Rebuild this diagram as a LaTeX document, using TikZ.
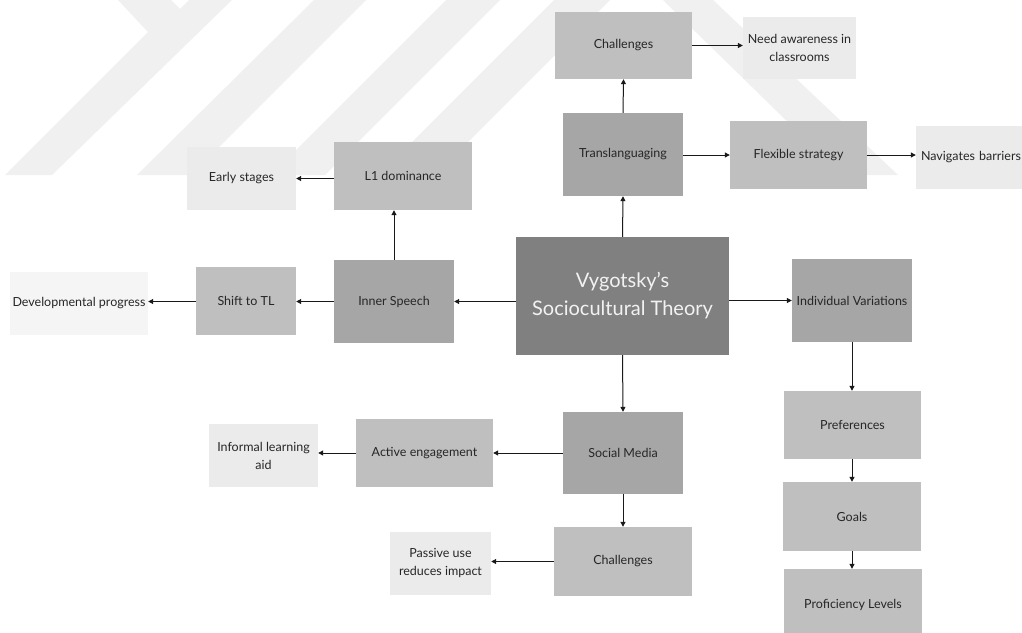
\documentclass[tikz,border=0pt]{standalone}
\usepackage{fontspec}
\setmainfont{Lato}
\usetikzlibrary{arrows.meta}

\definecolor{hubgray}{HTML}{808080}
\definecolor{midgray}{HTML}{A6A6A6}
\definecolor{lightgray}{HTML}{BFBFBF}
\definecolor{palegray}{HTML}{EBEBEB}
\definecolor{whitegray}{HTML}{F5F5F5}
\definecolor{markgray}{HTML}{F0F0F0}
\definecolor{inkgray}{HTML}{262626}

\tikzset{
  box/.style={rectangle, inner sep=0pt, align=center, text=inkgray,
    font=\fontsize{12.5}{18}\selectfont},
  hub/.style={box, fill=hubgray, text={white!95!black},
    font=\fontsize{20}{28}\selectfont},
  tier1/.style={box, fill=midgray},
  tier2/.style={box, fill=lightgray},
  tier3/.style={box, fill=palegray},
  tier4/.style={box, fill=whitegray},
  link/.style={-{Triangle[length=5pt,width=5pt]}, line width=1pt, black!90},
  sz/.style n args={2}{minimum width=#1pt, minimum height=#2pt}
}

\begin{document}
\begin{tikzpicture}[x=1pt, y=-1pt]
  \useasboundingbox (0,0) rectangle (1022,632);
  \fill[white] (0,0) rectangle (1022,632);

  % light background stripes
  \begin{scope}[fill=markgray]
    \fill (118,0) -- (171,0) -- (180,9) -- (189,0) -- (232,0) -- (52,175)
          -- (5,175) -- (148,32) -- cycle;
    \fill (314,0) -- (366,0) -- (191,175) -- (137,175) -- cycle;
    \fill (446,0) -- (500,0) -- (325,175) -- (271,175) -- cycle;
    \fill (554,0) -- (610,0) -- (435,175) -- (379,175) -- cycle;
    \fill (663,0) -- (713,0) -- (898,175) -- (842,175) -- cycle;
  \end{scope}

  % central concept
  \node[hub, sz={213}{118}] (hub) at (622.5,296) {Vygotsky's\\Sociocultural Theory};

  % translanguaging branch
  \node[tier1, sz={120}{83}] (trans) at (623,154.5) {Translanguaging};
  \node[tier2, sz={137}{67}] (chalA) at (623.5,45.5) {Challenges};
  \node[tier3, sz={113}{62}] (aware) at (799.5,48) {Need awareness in\\classrooms};
  \node[tier2, sz={137}{68}] (flex) at (798.5,155) {Flexible strategy};
  \node[tier3, sz={120}{63}, text width=120pt] (nav) at (976,157.5) {Navigates barriers\hspace*{10pt}};

  % inner speech branch
  \node[tier1, sz={120}{83}] (inner) at (394,301.5) {Inner Speech};
  \node[tier2, sz={138}{68}] (lone) at (403,176) {L1 dominance};
  \node[tier3, sz={109}{63}] (early) at (241.5,178.5) {Early stages};
  \node[tier2, sz={100}{68}] (shift) at (246,301) {Shift to TL};
  \node[tier4, sz={138}{63}] (devel) at (79,303.5) {Developmental progress};

  % individual variations branch
  \node[tier1, sz={120}{83}] (indiv) at (852,300.5) {Individual Variations};
  \node[tier2, sz={137}{68}] (pref) at (852.5,425) {Preferences};
  \node[tier2, sz={138}{69}] (goals) at (852,516.5) {Goals};
  \node[tier2, sz={138}{71}] (prof) at (853,604.5) {Proficiency Levels};

  % social media branch
  \node[tier1, sz={120}{82}] (social) at (623,453) {Social Media};
  \node[tier2, sz={137}{68}] (active) at (424.5,453) {Active engagement};
  \node[tier3, sz={109}{63}] (inform) at (263.5,455.5) {Informal learning\\aid};
  \node[tier2, sz={138}{69}] (chalB) at (623,561.5) {Challenges};
  \node[tier3, sz={101}{63}] (passive) at (440.5,563.5) {Passive use\\reduces impact};

  % connectors
  \draw[link] (hub.north) -- (trans.south);
  \draw[link] (trans.north) -- (chalA.south);
  \draw[link] (chalA.east) -- (aware.west |- chalA.east);
  \draw[link] (trans.east |- flex.west) -- (flex.west);
  \draw[link] (flex.east) -- (nav.west |- flex.east);

  \draw[link] (hub.west |- inner.east) -- (inner.east);
  \draw[link] (inner.west) -- (shift.east |- inner.west);
  \draw[link] (shift.west |- inner.west) -- (devel.east |- inner.west);
  \draw[link] (inner.north) -- (inner.north |- lone.south);
  \draw[link] (lone.west |- early.east) -- (early.east);

  \draw[link] (hub.east |- indiv.west) -- (indiv.west);
  \draw[link] (indiv.south) -- (pref.north -| indiv.south);
  \draw[link] (pref.south -| indiv.south) -- (goals.north -| indiv.south);
  \draw[link] (goals.south -| indiv.south) -- (prof.north -| indiv.south);

  \draw[link] (hub.south) -- (social.north);
  \draw[link] (social.west) -- (active.east);
  \draw[link] (active.west) -- (inform.east |- active.west);
  \draw[link] (social.south) -- (chalB.north);
  \draw[link] (chalB.west) -- (passive.east |- chalB.west);
\end{tikzpicture}
\end{document}
